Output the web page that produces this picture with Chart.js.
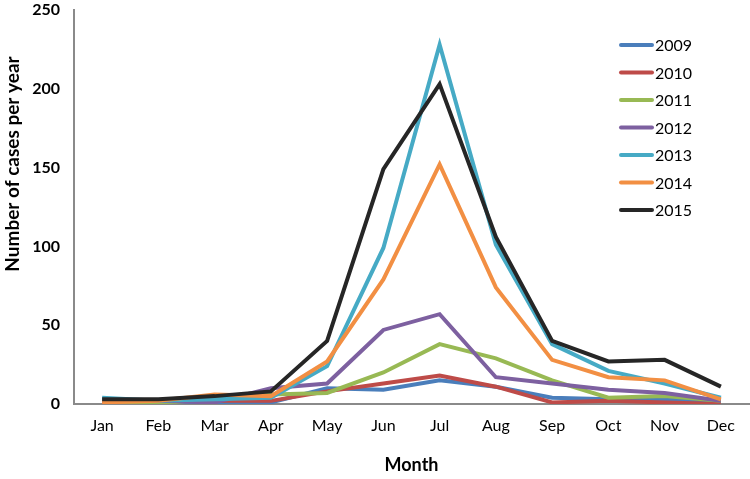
<!DOCTYPE html>
<html>
<head>
<meta charset="utf-8">
<script src="https://cdn.jsdelivr.net/npm/chart.js@4.4.0/dist/chart.umd.min.js"></script>
<style>
html,body{margin:0;padding:0;background:#fff;}
#wrap{width:750px;height:479px;position:relative;}
</style>
</head>
<body>
<div id="wrap"><canvas id="c" width="750" height="479"></canvas></div>
<script>
const months = ["Jan","Feb","Mar","Apr","May","Jun","Jul","Aug","Sep","Oct","Nov","Dec"];
const years = ["2009","2010","2011","2012","2013","2014","2015"];
const yTicks = [0,50,100,150,200,250];
const y2009 = [2,2,1,1,10,9,15,11,4,3,3,1];
const y2010 = [0,2,2,2,8,13,18,11,1,2,1,0];
const y2011 = [2,0,4,6,7,20,38,29,15,4,5,2];
const y2012 = [2,2,1,10,13,47,57,17,13,9,7,2];
const y2013 = [4,2,3,4,24,99,228,101,38,21,13,4];
const y2014 = [1,2,6,5,27,79,152,74,28,17,15,3];
const y2015 = [3,3,5,8,40,149,203,106,40,27,28,11];
const seriesValues = [y2009,y2010,y2011,y2012,y2013,y2014,y2015];
const colors = ["#4A7EBB","#BE4B48","#98B954","#7D60A0","#46AAC5","#F28F43","#262626"];

const FONT = "Lato, 'Open Sans', sans-serif";

const datasets = years.map((y,i)=>({
  label: y,
  data: seriesValues[i],
  borderColor: colors[i],
  backgroundColor: colors[i],
  borderWidth: 4,
  pointRadius: 0,
  tension: 0,
  fill: false,
  order: years.length - i,
  borderJoinStyle: 'miter'
}));

const legendPlugin = {
  id: 'customLegend',
  afterDraw(chart){
    const ctx = chart.ctx;
    ctx.save();
    ctx.font = "16px " + FONT;
    ctx.textBaseline = 'middle';
    ctx.textAlign = 'left';
    chart.data.datasets.forEach((ds,i)=>{
      const y = 45 + i*27.5;
      ctx.strokeStyle = ds.borderColor;
      ctx.lineWidth = 4;
      ctx.lineCap = 'round';
      ctx.beginPath();
      ctx.moveTo(621,y);
      ctx.lineTo(652,y);
      ctx.stroke();
      ctx.fillStyle = '#000';
      ctx.fillText(ds.label, 655, y+1);
    });
    ctx.restore();
  }
};

const yTitlePlugin = {
  id: 'yTitle',
  afterDraw(chart){
    const ctx = chart.ctx;
    ctx.save();
    ctx.translate(13, 164);
    ctx.rotate(-Math.PI/2);
    ctx.font = "bold 19px " + FONT;
    ctx.fillStyle = '#000';
    ctx.textAlign = 'center';
    ctx.textBaseline = 'middle';
    ctx.fillText("Number of cases per year", 0, 0);
    ctx.restore();
  }
};

new Chart(document.getElementById('c'), {
  type: 'line',
  data: { labels: months, datasets },
  options: {
    responsive: false,
    animation: false,
    layout: { padding: { top: 10, right: 1, left: 0, bottom: 0 } },
    plugins: { legend: { display: false }, tooltip: { enabled: false } },
    scales: {
      x: {
        offset: true,
        grid: { display: false, drawTicks: false },
        border: { display: true, color: '#8a8a8a', width: 2 },
        ticks: { color: '#000', font: { family: FONT, size: 16 }, padding: 12, maxRotation: 0 },
        title: { display: true, text: 'Month', color: '#000', font: { family: FONT, size: 18, weight: 'bold' }, padding: { top: 0, bottom: 3 } },
        afterFit(s){ s.height = 75; s.paddingLeft = 0; s.paddingRight = 0; }
      },
      y: {
        min: 0, max: 250,
        grid: { display: false, drawTicks: false },
        border: { display: true, color: '#8a8a8a', width: 2 },
        afterBuildTicks(s){ s.ticks = yTicks.map(v=>({value:v})); },
        ticks: { color: '#000', font: { family: FONT, size: 16, weight: 'bold' }, padding: 14 },
        afterFit(s){ s.width = 74; s.paddingTop = 0; s.paddingBottom = 0; }
      }
    }
  },
  plugins: [legendPlugin, yTitlePlugin]
});
</script>
</body>
</html>
